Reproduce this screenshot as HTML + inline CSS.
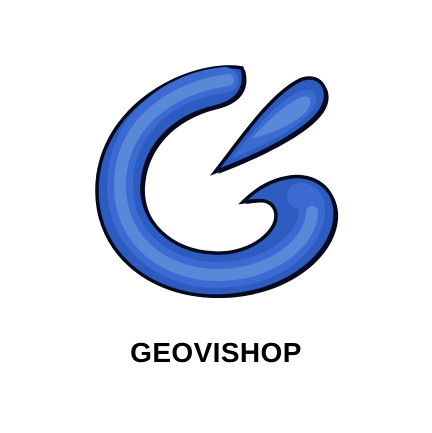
<!DOCTYPE html>
<html><head><meta charset="utf-8"><style>
html,body{margin:0;padding:0;background:#fff;width:432px;height:433px;overflow:hidden}
svg{display:block}
</style></head><body>
<svg width="432" height="433" viewBox="0 0 432 433">
 <g>
  <path transform="translate(3,2)" fill="#050a1e" d="M242,68 C200,60 110,95 98,175 C88,250 150,298 220,296 C290,294 338,250 335,210 C333,185 310,172 285,178 C265,182 250,195 243,202 C258,200 270,198 275,210 C282,230 250,255 215,253 C170,252 140,220 142,185 C145,140 180,115 215,107 C235,102 248,90 242,68 Z"/>
  <path fill="#2c5cc0" stroke="#050a1e" stroke-width="3.5" d="M242,68 C200,60 110,95 98,175 C88,250 150,298 220,296 C290,294 338,250 335,210 C333,185 310,172 285,178 C265,182 250,195 243,202 C258,200 270,198 275,210 C282,230 250,255 215,253 C170,252 140,220 142,185 C145,140 180,115 215,107 C235,102 248,90 242,68 Z"/>
  <path fill="none" stroke="#3a6ad2" stroke-width="26" stroke-linecap="round" d="M225,80 C170,85 120,125 120,185 C120,245 170,276 220,275 C275,274 312,240 312,210 C312,200 306,195 300,196"/>
  <path fill="none" stroke="#5a88d8" stroke-width="12" stroke-linecap="round" d="M228,80 C170,88 120,125 120,185 C120,245 170,276 220,275 C275,274 312,240 312,212"/>
 </g>
 <g>
  <path transform="translate(3,2)" fill="#050a1e" d="M215,172 C240,140 270,95 300,80 C320,72 332,90 322,108 C310,130 260,155 215,172 Z"/>
  <path fill="#2c5cc0" stroke="#050a1e" stroke-width="3.5" d="M215,172 C240,140 270,95 300,80 C320,72 332,90 322,108 C310,130 260,155 215,172 Z"/>
  <path fill="#3a6ad2" d="M232,158 C252,132 276,102 300,91 C314,86 320,96 314,108 C302,126 265,146 232,158 Z"/>
  <path fill="#5a88d8" d="M252,138 C270,118 288,102 302,97 C312,94 313,104 306,112 C294,124 272,134 252,138 Z"/>
 </g>
 <text x="216" y="362" text-anchor="middle" font-family="Liberation Sans, sans-serif" font-weight="bold" font-size="28" letter-spacing="0.4" fill="#000">GEOVISHOP</text>
</svg>
</body></html>
